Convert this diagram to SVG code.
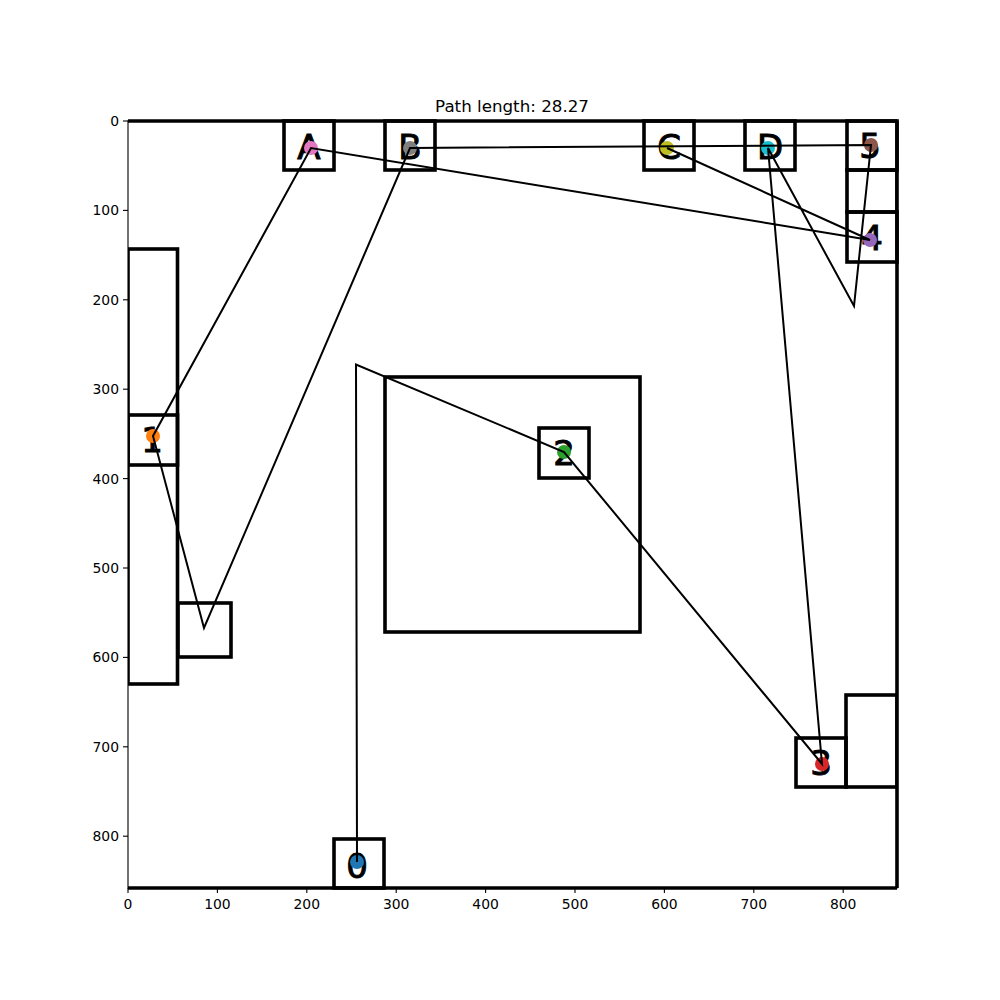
<svg xmlns="http://www.w3.org/2000/svg" width="1000" height="1000" viewBox="0 0 1000 1000">
<defs>
<clipPath id="axclip"><rect x="128" y="121" width="769" height="767"/></clipPath>
</defs>
<style>
.box{fill:none;stroke:#000;stroke-width:3.6}
.lbl{font-family:"DejaVu Sans",sans-serif;font-size:34px;text-anchor:middle;fill:#000;stroke:#000;stroke-width:1}
.tick{font-family:"DejaVu Sans",sans-serif;font-size:13.9px;fill:#000}
.path{fill:none;stroke:#000;stroke-width:2;stroke-linejoin:miter}
.ax{stroke:#000;stroke-width:1.1}
</style>
<rect width="1000" height="1000" fill="#fff"/>
<text x="512" y="112" font-family="DejaVu Sans, sans-serif" font-size="16.7" text-anchor="middle">Path length: 28.27</text>
<rect x="128" y="121" width="769" height="767" fill="none" class="ax"/>
<g id="ticks" class="ax">
<line x1="128" y1="888" x2="128" y2="893"/><line x1="217.4" y1="888" x2="217.4" y2="893"/><line x1="306.8" y1="888" x2="306.8" y2="893"/><line x1="396.2" y1="888" x2="396.2" y2="893"/><line x1="485.6" y1="888" x2="485.6" y2="893"/><line x1="575" y1="888" x2="575" y2="893"/><line x1="664.4" y1="888" x2="664.4" y2="893"/><line x1="753.8" y1="888" x2="753.8" y2="893"/><line x1="843.2" y1="888" x2="843.2" y2="893"/>
<line x1="123" y1="121" x2="128" y2="121"/><line x1="123" y1="210.4" x2="128" y2="210.4"/><line x1="123" y1="299.8" x2="128" y2="299.8"/><line x1="123" y1="389.2" x2="128" y2="389.2"/><line x1="123" y1="478.6" x2="128" y2="478.6"/><line x1="123" y1="568" x2="128" y2="568"/><line x1="123" y1="657.4" x2="128" y2="657.4"/><line x1="123" y1="746.8" x2="128" y2="746.8"/><line x1="123" y1="836.2" x2="128" y2="836.2"/>
</g>
<g id="xlabels" class="tick" text-anchor="middle">
<text x="128" y="909">0</text><text x="217.4" y="909">100</text><text x="306.8" y="909">200</text><text x="396.2" y="909">300</text><text x="485.6" y="909">400</text><text x="575" y="909">500</text><text x="664.4" y="909">600</text><text x="753.8" y="909">700</text><text x="843.2" y="909">800</text>
</g>
<g id="ylabels" class="tick" text-anchor="end">
<text x="119" y="126">0</text><text x="119" y="215.4">100</text><text x="119" y="304.8">200</text><text x="119" y="394.2">300</text><text x="119" y="483.6">400</text><text x="119" y="573">500</text><text x="119" y="662.4">600</text><text x="119" y="751.8">700</text><text x="119" y="841.2">800</text>
</g>
<g id="border">
<line x1="128" y1="121" x2="897" y2="121" stroke="#000" stroke-width="3.6"/>
<line x1="897" y1="121" x2="897" y2="888" stroke="#000" stroke-width="3.6"/>
<line x1="128" y1="888" x2="897" y2="888" stroke="#000" stroke-width="3.6"/>
</g>
<g id="obstacles" clip-path="url(#axclip)">
<rect class="box" x="128" y="249" width="49.5" height="435"/>
<rect class="box" x="178" y="603" width="53" height="54"/>
<rect class="box" x="385" y="377" width="255" height="255"/>
<rect class="box" x="847" y="170" width="50" height="42"/>
<rect class="box" x="846" y="695" width="51" height="92"/>
</g>
<g id="node-A"><rect class="box" x="284" y="121" width="50" height="49"/><text class="lbl" x="309" y="159">A</text><circle cx="311" cy="148" r="7" fill="#e377c2"/></g>
<g id="node-B"><rect class="box" x="385" y="121" width="50" height="49"/><text class="lbl" x="410" y="159">B</text><circle cx="410" cy="148" r="7" fill="#7f7f7f"/></g>
<g id="node-C"><rect class="box" x="644" y="121" width="50" height="49"/><text class="lbl" x="669" y="159">C</text><circle cx="667" cy="148" r="7" fill="#bcbd22"/></g>
<g id="node-D"><rect class="box" x="745" y="121" width="50" height="49"/><text class="lbl" x="770" y="159">D</text><circle cx="768" cy="148" r="7" fill="#17becf"/></g>
<g id="node-5"><rect class="box" x="847" y="121" width="50" height="49"/><text class="lbl" x="870" y="158">5</text><circle cx="871" cy="145" r="7" fill="#8c564b"/></g>
<g id="node-4"><rect class="box" x="847" y="212" width="50" height="50"/><text class="lbl" x="872" y="250">4</text><circle cx="870" cy="240" r="7" fill="#9467bd"/></g>
<g id="node-1" clip-path="url(#axclip)"><rect class="box" x="128" y="415" width="49.5" height="50"/><text class="lbl" x="152" y="452">1</text><circle cx="153" cy="436" r="7" fill="#ff7f0e"/></g>
<g id="node-2"><rect class="box" x="539" y="428" width="50" height="50"/><text class="lbl" x="564" y="465">2</text><circle cx="564" cy="452" r="7" fill="#2ca02c"/></g>
<g id="node-3"><rect class="box" x="796" y="738" width="50" height="49"/><text class="lbl" x="821" y="775">3</text><circle cx="822" cy="764" r="7" fill="#d62728"/></g>
<g id="node-0"><rect class="box" x="334" y="839" width="50" height="49"/><text class="lbl" x="357" y="878">0</text><circle cx="357" cy="862" r="7" fill="#1f77b4"/></g>
<g id="connectors">
<polyline class="path" points="357,862 356,364.5 564,452 822,764 768,148 854,306 871,145 410,148 204,628 153,436 311,148 870,240 667,148"/>
</g>
</svg>
